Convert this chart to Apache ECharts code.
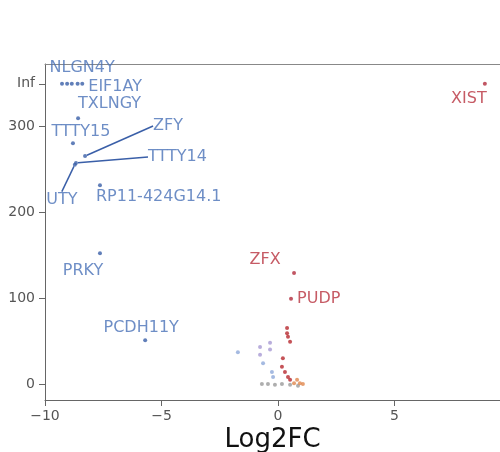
<!DOCTYPE html>
<html>
<head>
<meta charset="utf-8">
<script src="https://cdn.jsdelivr.net/npm/echarts@6/dist/echarts.min.js"></script>
<style>
  html, body { margin: 0; padding: 0; background: #fff; }
  #container { width: 500px; height: 452px; }
</style>
</head>
<body>
<div id="container"></div>
<script>
// y value used for p = 0 ("Inf")
var infValue = 349;
var yTicks = [0, 100, 200, 300, infValue];
var xTicks = [-10, -5, 0, 5];

// labelled down-regulated genes (blue), '' = unlabelled point on the Inf row
var downGenes = ['NLGN4Y', 'EIF1AY', 'TXLNGY', 'TTTY15', 'ZFY', 'TTTY14', 'UTY', 'RP11-424G14.1', 'PRKY', 'PCDH11Y', '', '', ''];
var downFC = [-9.05, -8.4, -8.58, -8.8, -8.28, -8.67, -8.72, -7.64, -7.64, -5.7, -9.27, -8.85, -8.6];
var downP = [349, 349, 309, 280, 265, 257, 255, 231, 152, 51, 349, 349, 349];

// labelled up-regulated genes (red)
var upGenes = ['XIST', 'ZFX', 'PUDP'];
var upFC = [8.88, 0.69, 0.56];
var upP = [349, 129, 99];

// small unlabelled points near 0
var lightFC = [-1.72, -0.64, -0.26, -0.21];
var lightP = [37, 24, 14, 8];
var lilacFC = [-0.77, -0.77, -0.34, -0.34];
var lilacP = [43, 34, 48, 40];
var redFC = [0.39, 0.39, 0.43, 0.52, 0.21, 0.17, 0.30, 0.43, 0.52];
var redP = [65, 59, 55, 49, 30, 20, 14, 8, 5];
var orangeFC = [0.82, 0.94, 1.07, 0.69];
var orangeP = [5, 1, 0, 1];
var greyFC = [-0.69, -0.43, -0.13, 0.17, 0.52, 0.86];
var greyP = [0, 0, -1, 0, -1, -2];

// where each label sits relative to its point (pixels)
var labelPos = {
    'NLGN4Y': [15, -16, 'center'],
    'EIF1AY': [6, 3, 'left'],
    'TXLNGY': [0, -14, 'left'],
    'TTTY15': [8, -11, 'center'],
    'ZFY': [68, -30, 'left'],
    'TTTY14': [72, -6, 'left'],
    'UTY': [-13, 35, 'center'],
    'RP11-424G14.1': [-4, 12, 'left'],
    'PRKY': [-17, 18, 'center'],
    'PCDH11Y': [-4, -12, 'center'],
    'XIST': [-16, 15, 'center'],
    'ZFX': [-29, -13, 'center'],
    'PUDP': [6, 0, 'left']
};
var withLine = ['ZFY', 'TTTY14', 'UTY'];

function pts(xs, ys, names) {
    var out = [];
    for (var i = 0; i < xs.length; i++) {
        var item = {name: names ? names[i] : '', value: [xs[i], ys[i]]};
        if (names && withLine.indexOf(names[i]) >= 0) {
            item.labelLine = {show: true};
        }
        out.push(item);
    }
    return out;
}

function layoutLabel(params) {
    var p = labelPos[params.text];
    if (!p) return {};
    var cx = params.rect.x + params.rect.width / 2;
    var cy = params.rect.y + params.rect.height / 2;
    return {x: cx + p[0], y: cy + p[1], align: p[2], verticalAlign: 'middle'};
}

function small(name, xs, ys, color) {
    return {
        name: name,
        type: 'scatter',
        symbolSize: 4,
        itemStyle: {color: color, opacity: 0.8},
        data: pts(xs, ys),
        z: 2
    };
}

var labelFont = {fontFamily: 'DejaVu Sans', fontSize: 16};
var tickFont = {color: '#555', fontFamily: 'DejaVu Sans', fontSize: 14};

var myChart = echarts.init(document.getElementById('container'));
var option = {
    animation: false,
    grid: {left: 45, right: 0, top: 64, bottom: 52, containLabel: false, outerBoundsMode: 'none'},
    xAxis: [{
        type: 'value',
        min: -10, max: 9.53,
        name: 'Log2FC',
        nameLocation: 'middle',
        nameGap: 27,
        nameMoveOverlap: false,
        nameTextStyle: {fontFamily: 'DejaVu Sans', fontSize: 26, color: '#111'},
        splitLine: {show: false},
        axisLine: {onZero: false, lineStyle: {color: '#666'}},
        axisTick: {show: true, length: 6, lineStyle: {color: '#666'}, customValues: xTicks},
        axisLabel: Object.assign({
            customValues: xTicks, margin: 9,
            formatter: function (v) { return v < 0 ? '\u2212' + Math.abs(v) : '' + v; }
        }, tickFont)
    }, {
        // top border of the panel
        type: 'value',
        position: 'top',
        min: -10, max: 9.53,
        splitLine: {show: false},
        axisLine: {show: true, onZero: false, lineStyle: {color: '#888'}},
        axisTick: {show: false},
        axisLabel: {show: false}
    }],
    yAxis: {
        type: 'value',
        min: -18.6, max: 372,
        splitLine: {show: false},
        axisLine: {show: true, onZero: false, lineStyle: {color: '#666'}},
        axisTick: {show: true, length: 6, lineStyle: {color: '#666'}, customValues: yTicks},
        axisLabel: Object.assign({
            customValues: yTicks, margin: 10,
            formatter: function (v) { return v === infValue ? 'Inf' : '' + v; }
        }, tickFont)
    },
    series: [
        small('grey', greyFC, greyP, '#9a9a9a'),
        small('light', lightFC, lightP, '#8fa9d9'),
        small('lilac', lilacFC, lilacP, '#a79ad3'),
        small('orange', orangeFC, orangeP, '#e0874e'),
        small('red', redFC, redP, '#b7282e'),
        {
            name: 'down',
            type: 'scatter',
            symbolSize: 4,
            itemStyle: {color: '#3a5fa8'},
            data: pts(downFC, downP, downGenes),
            label: Object.assign({show: true, formatter: '{b}', color: '#4a72b8'}, labelFont),
            labelLine: {show: false, lineStyle: {color: '#3a5fa8', width: 1.5}},
            labelLayout: layoutLabel,
            z: 3
        },
        {
            name: 'up',
            type: 'scatter',
            symbolSize: 4,
            itemStyle: {color: '#b22c3c'},
            data: pts(upFC, upP, upGenes),
            label: Object.assign({show: true, formatter: '{b}', color: '#b8323f'}, labelFont),
            labelLayout: layoutLabel,
            z: 3
        }
    ]
};
myChart.setOption(option);
</script>
</body>
</html>
